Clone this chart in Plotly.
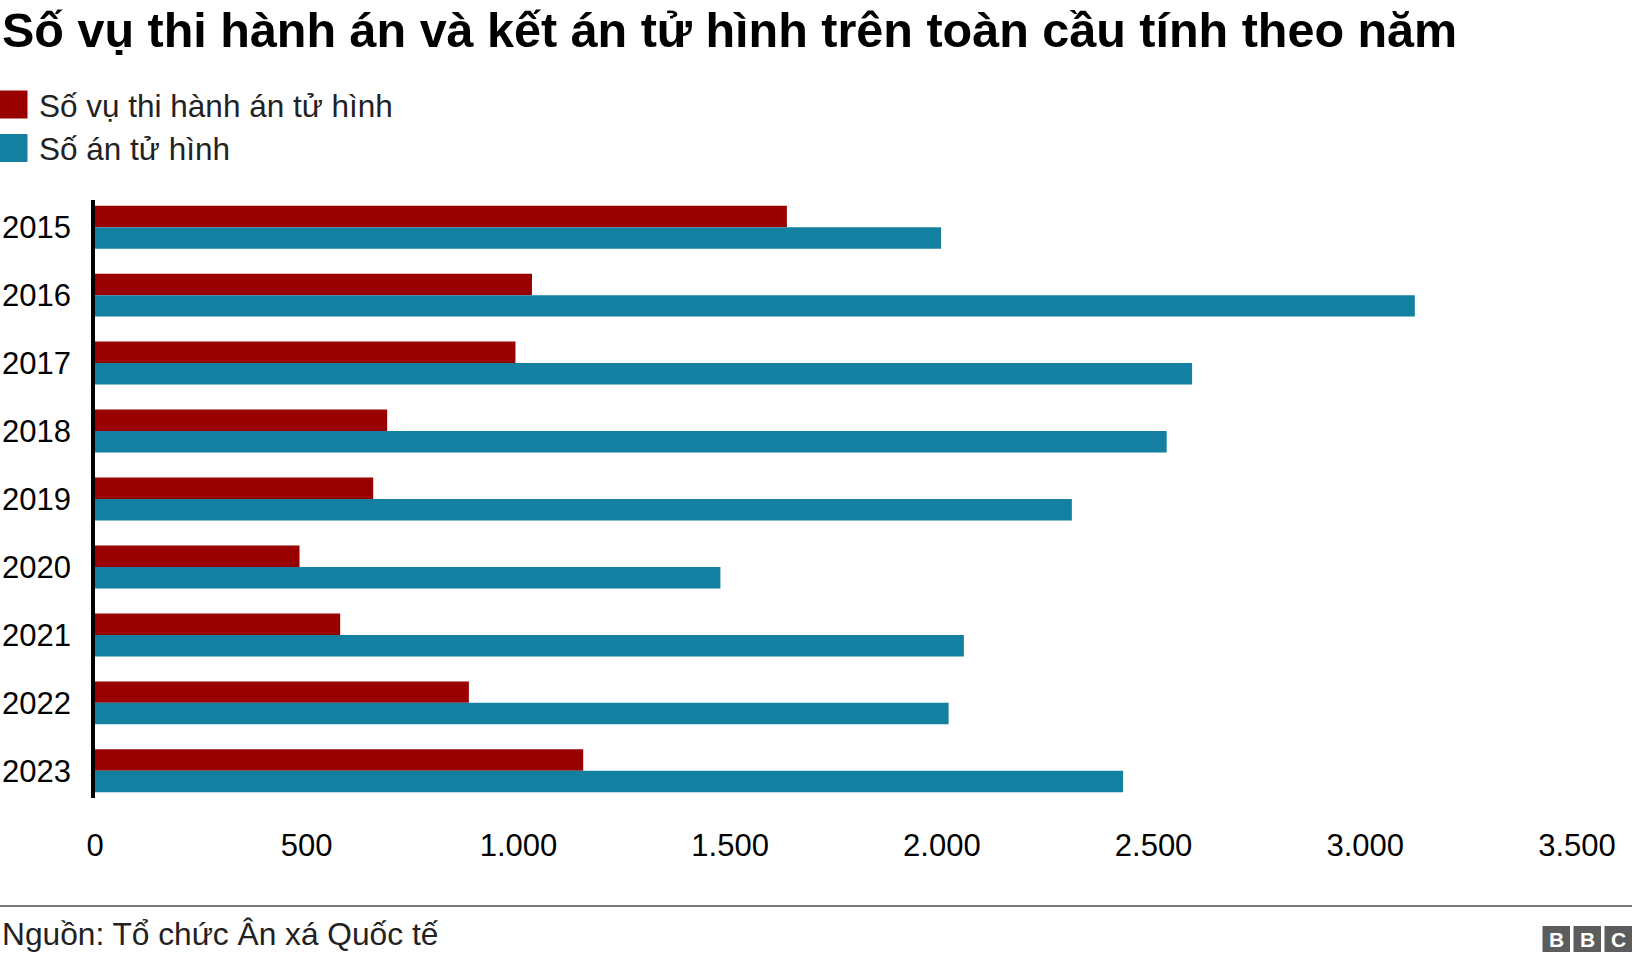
import plotly.graph_objects as go

years = ["2015", "2016", "2017", "2018", "2019", "2020", "2021", "2022", "2023"]
executions = [1634, 1032, 993, 690, 657, 483, 579, 883, 1153]
death_sentences = [1998, 3117, 2591, 2531, 2307, 1477, 2052, 2016, 2428]
series_names = ["Số vụ thi hành án tử hình", "Số án tử hình"]
x_tickvals = [0, 500, 1000, 1500, 2000, 2500, 3000, 3500]
x_ticktext = ["0", "500", "1.000", "1.500", "2.000", "2.500", "3.000", "3.500"]

title_text = "Số vụ thi hành án và kết án tử hình trên toàn cầu tính theo năm"
source_text = "Nguồn: Tổ chức Ân xá Quốc tế"

RED = "#990000"
BLUE = "#1380A1"
TXT = "#222222"
FONT = "Liberation Sans, Arial, sans-serif"

W, H = 1632, 962
L, R, T, B = 95, 55, 200, 164
PW, PH = W - L - R, H - T - B


def px(x):
    return (x - L) / PW


def py(y):
    return (H - B - y) / PH


fig = go.Figure()
fig.add_trace(go.Bar(y=years, x=executions, name=series_names[0], orientation="h",
                     marker=dict(color=RED, line=dict(width=0))))
fig.add_trace(go.Bar(y=years, x=death_sentences, name=series_names[1], orientation="h",
                     marker=dict(color=BLUE, line=dict(width=0))))

shapes = []
annotations = []

# title
annotations.append(dict(x=px(0), y=py(30), xref="paper", yref="paper", xanchor="left", yanchor="middle",
                        text="<b>" + title_text + "</b>", showarrow=False,
                        font=dict(family=FONT, size=48.5, color="#000000")))

# legend (manual swatches)
legend_rows = [(104.5, RED, series_names[0]), (148, BLUE, series_names[1])]
for cy, col, name in legend_rows:
    shapes.append(dict(type="rect", xref="paper", yref="paper",
                       x0=px(0), x1=px(27.5), y0=py(cy - 14), y1=py(cy + 14),
                       fillcolor=col, line=dict(width=0)))
    annotations.append(dict(x=px(37), y=py(cy + 1), xref="paper", yref="paper", xanchor="left",
                            yanchor="middle", text=name, showarrow=False,
                            font=dict(family=FONT, size=31.5, color=TXT)))

# footer line
shapes.append(dict(type="line", xref="paper", yref="paper", x0=px(0), x1=px(W),
                   y0=py(906), y1=py(906), line=dict(color="#7a7a7a", width=2)))
annotations.append(dict(x=px(0), y=py(934), xref="paper", yref="paper", xanchor="left", yanchor="middle",
                        text=source_text, showarrow=False,
                        font=dict(family=FONT, size=31.7, color=TXT)))

# BBC logo
for i, letter in enumerate(["B", "B", "C"]):
    x0 = 1542.5 + i * 31
    shapes.append(dict(type="rect", xref="paper", yref="paper",
                       x0=px(x0), x1=px(x0 + 27.5), y0=py(926), y1=py(952),
                       fillcolor="#5c5c5c", line=dict(width=0)))
    annotations.append(dict(x=px(x0 + 13.75), y=py(939.5), xref="paper", yref="paper",
                            xanchor="center", yanchor="middle", text="<b>" + letter + "</b>",
                            showarrow=False, font=dict(family=FONT, size=21, color="#ffffff")))

fig.update_layout(
    width=W, height=H,
    margin=dict(l=L, r=R, t=T, b=B, pad=0, autoexpand=False),
    paper_bgcolor="#ffffff", plot_bgcolor="#ffffff",
    barmode="group", bargap=0.368, bargroupgap=0,
    showlegend=False,
    font=dict(family=FONT, size=31, color=TXT),
    shapes=shapes, annotations=annotations,
    xaxis=dict(range=[0, 3500], tickvals=x_tickvals, ticktext=x_ticktext,
               showgrid=False, zeroline=False, showline=False, ticks="",
               automargin=False,
               ticklabelstandoff=26, tickfont=dict(family=FONT, size=31, color="#000000"),
               fixedrange=True),
    yaxis=dict(type="category", categoryorder="array", categoryarray=years,
               range=[8.4, -0.4], showgrid=False, zeroline=False,
               showline=True, linecolor="#000000", linewidth=3.5, ticks="",
               automargin=False,
               ticklabelstandoff=14, tickfont=dict(family=FONT, size=31, color="#000000"),
               fixedrange=True),
)

# remove the browser's default 8px page margin so the figure fills the window exactly
page_css = "document.body.style.margin='0';document.body.style.overflow='hidden';"
fig.write_html("out.html", post_script=page_css, config={"displayModeBar": False})
